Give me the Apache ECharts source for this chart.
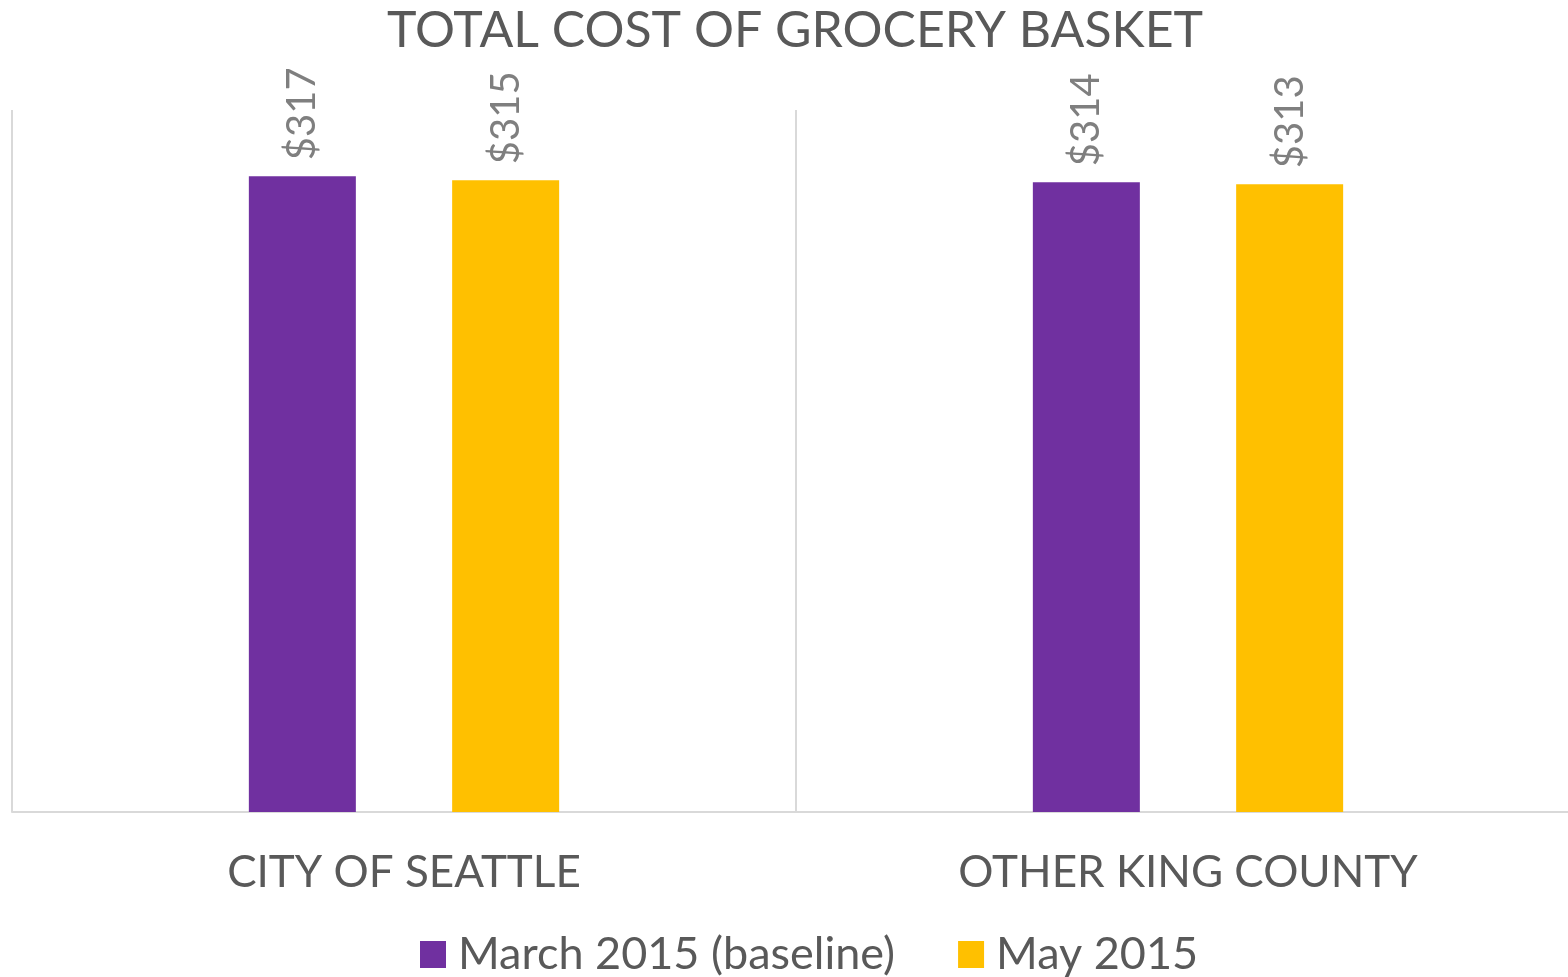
<!DOCTYPE html>
<html>
<head>
<meta charset="utf-8">
<script src="https://cdn.jsdelivr.net/npm/echarts@6/dist/echarts.min.js"></script>
<style>
  html, body { margin: 0; padding: 0; background: #fff; }
  #chart { width: 1568px; height: 977px; }
</style>
</head>
<body>
<div id="chart"></div>
<script>
const categories = ['CITY OF SEATTLE', 'OTHER KING COUNTY'];
const march2015 = [317, 314];
const may2015 = [315, 313];
const seriesNames = ['March 2015 (baseline)', 'May 2015'];

const chart = echarts.init(document.getElementById('chart'));

const barLabel = {
  show: true,
  position: 'top',
  rotate: 90,
  align: 'left',
  verticalAlign: 'middle',
  distance: 16,
  color: '#7f7f7f',
  fontFamily: 'Lato',
  fontSize: 40,
  formatter: p => '$' + p.value
};

chart.setOption({
  animation: false,
  title: {
    text: 'TOTAL COST OF GROCERY BASKET',
    left: 382,
    top: 1,
    textStyle: {
      color: '#595959',
      fontFamily: 'Lato',
      fontWeight: 'normal',
      fontSize: 50
    }
  },
  legend: {
    bottom: 0,
    left: 420,
    padding: 0,
    itemWidth: 26,
    itemHeight: 27,
    itemGap: 63,
    icon: 'rect',
    textStyle: {
      color: '#595959',
      fontFamily: 'Lato',
      fontSize: 45,
      padding: [0, 0, 0, 7]
    },
    data: seriesNames
  },
  grid: {
    left: 12,
    width: 1568,
    top: 110,
    bottom: 165,
    outerBoundsMode: 'none',
    containLabel: false
  },
  xAxis: {
    type: 'category',
    data: categories,
    axisLine: { lineStyle: { color: '#d9d9d9', width: 2 } },
    axisTick: { show: false },
    splitLine: { show: true, lineStyle: { color: '#d9d9d9', width: 2 } },
    axisLabel: {
      color: '#595959',
      fontFamily: 'Lato',
      fontSize: 44,
      margin: 39
    }
  },
  yAxis: {
    type: 'value',
    min: 0,
    max: 350,
    show: false,
    splitLine: { show: false }
  },
  series: [
    {
      name: seriesNames[0],
      type: 'bar',
      data: march2015,
      barWidth: 107,
      barGap: '90%',
      itemStyle: { color: '#7030a0' },
      label: barLabel
    },
    {
      name: seriesNames[1],
      type: 'bar',
      data: may2015,
      barWidth: 107,
      itemStyle: { color: '#ffc000' },
      label: barLabel
    }
  ]
});
</script>
</body>
</html>
